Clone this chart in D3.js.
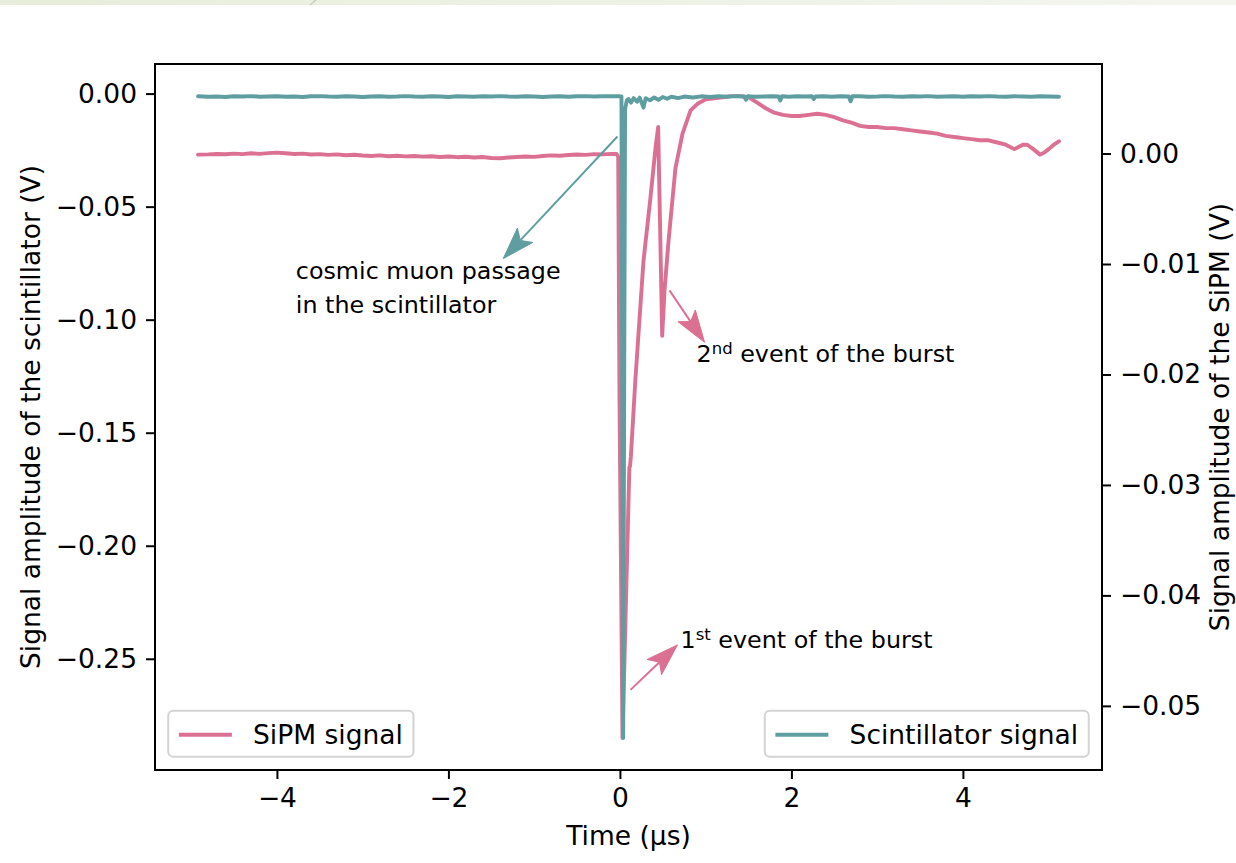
<!DOCTYPE html>
<html>
<head>
<meta charset="utf-8">
<script src="https://cdn.jsdelivr.net/npm/d3@7"></script>
<style>
  body { margin: 0; background: #fff; }
  svg text { font-family: "DejaVu Sans", sans-serif; fill: #000; }
</style>
</head>
<body>
<div id="chart"></div>
<script>
// --- data (time in µs, amplitude in V) ---

var timeSipm = [
  -4.92, -4.8, -4.7, -4.6, -4.5, -4.4, -4.3, -4.2, -4.1, -4.0,
  -3.9, -3.8, -3.7, -3.6, -3.5, -3.4, -3.3, -3.2, -3.1, -3.0,
  -2.9, -2.8, -2.7, -2.6, -2.5, -2.4, -2.3, -2.2, -2.1, -2.0,
  -1.9, -1.8, -1.7, -1.6, -1.5, -1.4, -1.3, -1.2, -1.1, -1.0,
  -0.9, -0.8, -0.7, -0.6, -0.5, -0.4, -0.3, -0.2, -0.1, -0.04,
  -0.02, -0.005, 0.03, 0.11, 0.118, 0.128, 0.18, 0.275, 0.356, 0.415,
  0.446, 0.46, 0.493, 0.52, 0.567, 0.648, 0.73, 0.824, 0.905, 1.0,
  1.1, 1.2, 1.3, 1.4, 1.5, 1.6, 1.7, 1.8, 1.9, 2.0,
  2.1, 2.2, 2.3, 2.4, 2.5, 2.6, 2.7, 2.8, 2.9, 3.0,
  3.1, 3.2, 3.3, 3.4, 3.5, 3.6, 3.7, 3.8, 3.9, 4.0,
  4.1, 4.2, 4.3, 4.4, 4.5, 4.6, 4.7, 4.75, 4.82, 4.9,
  4.95, 5.0, 5.06, 5.12
];

var sipmSignal = [
  -0.00010, -0.00008, -0.00004, -0.00007, -0.00001, -0.00005, 0.00002, -0.00003, 0.00004, 0.00008,
  0.00002, -0.00004, -0.00001, -0.00009, -0.00005, -0.00012, -0.00008, -0.00015, -0.00011, -0.00018,
  -0.00022, -0.00017, -0.00024, -0.00020, -0.00026, -0.00022, -0.00028, -0.00025, -0.00031, -0.00027,
  -0.00033, -0.00029, -0.00036, -0.00031, -0.00040, -0.00043, -0.00036, -0.00032, -0.00027, -0.00030,
  -0.00022, -0.00017, -0.00020, -0.00013, -0.00009, -0.00012, -0.00005, -0.00008, -0.00003, -0.00004,
  -0.00030, -0.0223, -0.0529, -0.0284, -0.0283, -0.0274, -0.0205, -0.0097, -0.0040, 0.0005,
  0.0024, -0.0033, -0.0165, -0.0124, -0.0079, -0.0013, 0.0018, 0.0039, 0.0045, 0.0049,
  0.0050, 0.0051, 0.0052, 0.0052, 0.0051, 0.0046, 0.0041, 0.0037, 0.0035, 0.0034,
  0.0034, 0.0035, 0.0036, 0.0035, 0.0033, 0.0030, 0.0028, 0.0025, 0.0024, 0.0024,
  0.0023, 0.0023, 0.0022, 0.0021, 0.0020, 0.0019, 0.0018, 0.0016, 0.0015, 0.0014,
  0.0013, 0.0012, 0.0012, 0.0010, 0.0008, 0.0004, 0.0008, 0.0008, 0.0004, -0.0001,
  0.0001, 0.0004, 0.0008, 0.0011
];

var timeScint = [
  -4.92, -4.8, -4.7, -4.6, -4.5, -4.4, -4.3, -4.2, -4.1, -4.0,
  -3.9, -3.8, -3.7, -3.6, -3.5, -3.4, -3.3, -3.2, -3.1, -3.0,
  -2.9, -2.8, -2.7, -2.6, -2.5, -2.4, -2.3, -2.2, -2.1, -2.0,
  -1.9, -1.8, -1.7, -1.6, -1.5, -1.4, -1.3, -1.2, -1.1, -1.0,
  -0.9, -0.8, -0.7, -0.6, -0.5, -0.4, -0.3, -0.2, -0.1, 0.0,
  0.018, 0.03, 0.038, 0.048, 0.06, 0.08, 0.1, 0.13, 0.16, 0.2,
  0.23, 0.275, 0.3, 0.35, 0.4, 0.45, 0.5, 0.55, 0.6, 0.68,
  0.75, 0.85, 0.95, 1.05, 1.15, 1.25, 1.35, 1.45, 1.47, 1.49,
  1.57, 1.67, 1.77, 1.85, 1.87, 1.89, 1.97, 2.07, 2.16, 2.24,
  2.26, 2.28, 2.37, 2.47, 2.57, 2.67, 2.69, 2.71, 2.8, 2.9,
  3.0, 3.1, 3.2, 3.3, 3.4, 3.5, 3.6, 3.7, 3.8, 3.9,
  4.0, 4.1, 4.2, 4.3, 4.4, 4.5, 4.6, 4.7, 4.8, 4.9,
  5.0, 5.12
];

var scintSignal = [
  -0.0012, -0.0014, -0.0013, -0.0015, -0.0012, -0.0013, -0.0011, -0.0014, -0.0013, -0.0012,
  -0.0014, -0.0013, -0.0015, -0.0012, -0.0011, -0.0013, -0.0014, -0.0012, -0.0013, -0.0015,
  -0.0013, -0.0012, -0.0014, -0.0013, -0.0011, -0.0013, -0.0014, -0.0012, -0.0013, -0.0015,
  -0.0012, -0.0013, -0.0014, -0.0012, -0.0013, -0.0011, -0.0013, -0.0014, -0.0012, -0.0013,
  -0.0015, -0.0013, -0.0012, -0.0014, -0.0012, -0.0011, -0.0013, -0.0012, -0.0011, -0.0012,
  -0.0013, -0.1700, -0.2850, -0.1500, -0.0070, -0.0030, -0.0024, -0.0040, -0.0020, -0.0036,
  -0.0018, -0.0062, -0.0020, -0.0030, -0.0017, -0.0028, -0.0015, -0.0023, -0.0014, -0.0020,
  -0.0013, -0.0017, -0.0012, -0.0015, -0.0012, -0.0014, -0.0011, -0.0013, -0.0027, -0.0012,
  -0.0014, -0.0013, -0.0012, -0.0013, -0.0030, -0.0012, -0.0014, -0.0012, -0.0013, -0.0012,
  -0.0024, -0.0013, -0.0012, -0.0014, -0.0012, -0.0013, -0.0034, -0.0012, -0.0012, -0.0014,
  -0.0013, -0.0011, -0.0013, -0.0014, -0.0012, -0.0013, -0.0011, -0.0014, -0.0013, -0.0012,
  -0.0014, -0.0012, -0.0013, -0.0011, -0.0013, -0.0014, -0.0012, -0.0013, -0.0014, -0.0012,
  -0.0013, -0.0014
];

var xTicks = [-4, -2, 0, 2, 4];
var leftTicks = [0, -0.05, -0.10, -0.15, -0.20, -0.25];
var rightTicks = [0, -0.01, -0.02, -0.03, -0.04, -0.05];

var seriesNames = ["SiPM signal", "Scintillator signal"];
var axisTitles = ["Time (\u00b5s)", "Signal amplitude of the scintillator (V)", "Signal amplitude of the SiPM (V)"];

// annotation anchors in data units: arrow tail, arrow tip, text start
var noteAxis = ["left", "right", "right"];
var noteTail = [[-0.029, -0.019], [0.578, -0.01239], [0.123, -0.04855]];
var noteTip = [[-1.361, -0.073], [0.987, -0.01709], [0.671, -0.04448]];
var noteText = [[-3.78, -0.0819], [0.894, -0.0189], [0.707, -0.04476]];
var noteLabels = [
  [["cosmic muon passage", ""], ["in the scintillator", ""]],
  [["2", "nd", " event of the burst"]],
  [["1", "st", " event of the burst"]]
];

// --- layout ---
var W = 1236, H = 863;
var L = 155, R = 1102, T = 64, B = 770;
var pink = "#db7093", teal = "#5f9ea0";
var fs = 26.5;        // 10pt
var noteFs = 23.8;    // 9pt

var svg = d3.select("#chart").append("svg")
    .attr("width", W).attr("height", H);

// thin strip left over at the top of the screenshot
var grad = svg.append("defs").append("linearGradient").attr("id", "strip");
grad.append("stop").attr("offset", "0%").attr("stop-color", "#e7eddb");
grad.append("stop").attr("offset", "100%").attr("stop-color", "#f4f6ee");
svg.append("rect").attr("x", 0).attr("y", 0).attr("width", W).attr("height", 5)
    .attr("fill", "url(#strip)");
svg.append("line").attr("x1", 310).attr("y1", 5).attr("x2", 316).attr("y2", 0)
    .attr("stroke", "#c8ccc0").attr("stroke-width", 1.5);

function padded(ext) {
  var d = ext[1] - ext[0];
  return [ext[0] - 0.05 * d, ext[1] + 0.05 * d];
}

var x = d3.scaleLinear()
    .domain(padded(d3.extent(timeSipm.concat(timeScint))))
    .range([L, R]);
var yL = d3.scaleLinear().domain(padded(d3.extent(scintSignal))).range([B, T]);
var yR = d3.scaleLinear().domain(padded(d3.extent(sipmSignal))).range([B, T]);

svg.append("clipPath").attr("id", "clip")
  .append("rect").attr("x", L).attr("y", T).attr("width", R - L).attr("height", B - T);

// traces
var sipmLine = d3.line().x(function(d){ return x(d[0]); }).y(function(d){ return yR(d[1]); });
var scintLine = d3.line().x(function(d){ return x(d[0]); }).y(function(d){ return yL(d[1]); });

var plot = svg.append("g").attr("clip-path", "url(#clip)");
plot.append("path")
    .datum(d3.zip(timeSipm, sipmSignal))
    .attr("d", sipmLine)
    .attr("fill", "none").attr("stroke", pink).attr("stroke-width", 3.9)
    .attr("stroke-linejoin", "round").attr("stroke-linecap", "round");
plot.append("path")
    .datum(d3.zip(timeScint, scintSignal))
    .attr("d", scintLine)
    .attr("fill", "none").attr("stroke", teal).attr("stroke-width", 3.9)
    .attr("stroke-linejoin", "round").attr("stroke-linecap", "round");

// axes
function styleAxis(g) {
  g.select(".domain").remove();
  g.selectAll(".tick line").attr("stroke", "#000").attr("stroke-width", 2);
  g.selectAll(".tick text").attr("font-size", fs).attr("font-family", "DejaVu Sans").attr("fill", "#000");
}

svg.append("g").attr("transform", "translate(0," + B + ")")
    .call(d3.axisBottom(x).tickValues(xTicks).tickFormat(d3.format("d")).tickSize(9).tickPadding(9))
    .call(styleAxis);
svg.append("g").attr("transform", "translate(" + L + ",0)")
    .call(d3.axisLeft(yL).tickValues(leftTicks).tickFormat(d3.format(".2f")).tickSize(9).tickPadding(9))
    .call(styleAxis);
svg.append("g").attr("transform", "translate(" + R + ",0)")
    .call(d3.axisRight(yR).tickValues(rightTicks).tickFormat(d3.format(".2f")).tickSize(9).tickPadding(9))
    .call(styleAxis);

svg.append("rect")
    .attr("x", L).attr("y", T).attr("width", R - L).attr("height", B - T)
    .attr("fill", "none").attr("stroke", "#000").attr("stroke-width", 2);

svg.append("text")
    .attr("x", (L + R) / 2).attr("y", 845)
    .attr("text-anchor", "middle").attr("font-size", fs)
    .text(axisTitles[0]);
svg.append("text")
    .attr("transform", "translate(40," + (T + B) / 2 + ") rotate(-90)")
    .attr("text-anchor", "middle").attr("font-size", fs)
    .text(axisTitles[1]);
svg.append("text")
    .attr("transform", "translate(1229," + (T + B) / 2 + ") rotate(-90)")
    .attr("text-anchor", "middle").attr("font-size", fs)
    .text(axisTitles[2]);

// annotations
var headLen = 32, headHalf = 10.5, notch = 25;
noteLabels.forEach(function(lines, i) {
  var ys = noteAxis[i] == "left" ? yL : yR;
  var col = noteAxis[i] == "left" ? teal : pink;
  var p0 = [x(noteTail[i][0]), ys(noteTail[i][1])];
  var p1 = [x(noteTip[i][0]), ys(noteTip[i][1])];
  var dx = p1[0] - p0[0], dy = p1[1] - p0[1];
  var len = Math.sqrt(dx * dx + dy * dy);
  var ux = dx / len, uy = dy / len, nx = -uy, ny = ux;
  var back = [p1[0] - ux * notch, p1[1] - uy * notch];

  svg.append("line")
      .attr("x1", p0[0]).attr("y1", p0[1]).attr("x2", back[0]).attr("y2", back[1])
      .attr("stroke", col).attr("stroke-width", 2);
  var head = [
    p1,
    [p1[0] - ux * headLen + nx * headHalf, p1[1] - uy * headLen + ny * headHalf],
    back,
    [p1[0] - ux * headLen - nx * headHalf, p1[1] - uy * headLen - ny * headHalf]
  ];
  svg.append("path")
      .attr("d", "M" + head.map(function(p){ return p[0] + "," + p[1]; }).join("L") + "Z")
      .attr("fill", col).attr("stroke", col).attr("stroke-width", 1).attr("stroke-linejoin", "miter");

  var tx = x(noteText[i][0]), ty = ys(noteText[i][1]);
  lines.forEach(function(parts, k) {
    var t = svg.append("text")
        .attr("x", tx).attr("y", ty + k * 34)
        .attr("font-size", noteFs);
    t.append("tspan").text(parts[0]);
    if (parts[1]) {
      t.append("tspan").attr("font-size", 16.5).attr("dy", -8).text(parts[1]);
      t.append("tspan").attr("dy", 8).text(parts[2]);
    }
  });
});

// legends: SiPM in lower left, scintillator in lower right
var legH = 46, pad = 10.6, handle = 53, gap = 21.2, axPad = 13.25;
function legend(name, color, side) {
  var g = svg.append("g");
  var box = g.append("rect")
      .attr("y", B - axPad - legH).attr("height", legH)
      .attr("rx", 5).attr("ry", 5)
      .attr("fill", "#fff").attr("fill-opacity", 0.8)
      .attr("stroke", "#d3d3d3").attr("stroke-width", 2);
  var label = g.append("text")
      .attr("y", B - axPad - legH / 2 + 9.8)
      .attr("font-size", fs)
      .text(name);
  var tw = label.node().getComputedTextLength();
  var w = pad + handle + gap + tw + pad;
  var x0 = side == "left" ? L + axPad : R - axPad - w;
  box.attr("x", x0).attr("width", w);
  g.append("line")
      .attr("x1", x0 + pad).attr("x2", x0 + pad + handle)
      .attr("y1", B - axPad - legH / 2 + 1).attr("y2", B - axPad - legH / 2 + 1)
      .attr("stroke", color).attr("stroke-width", 3.9);
  label.attr("x", x0 + pad + handle + gap);
}
legend(seriesNames[0], pink, "left");
legend(seriesNames[1], teal, "right");
</script>
</body>
</html>
